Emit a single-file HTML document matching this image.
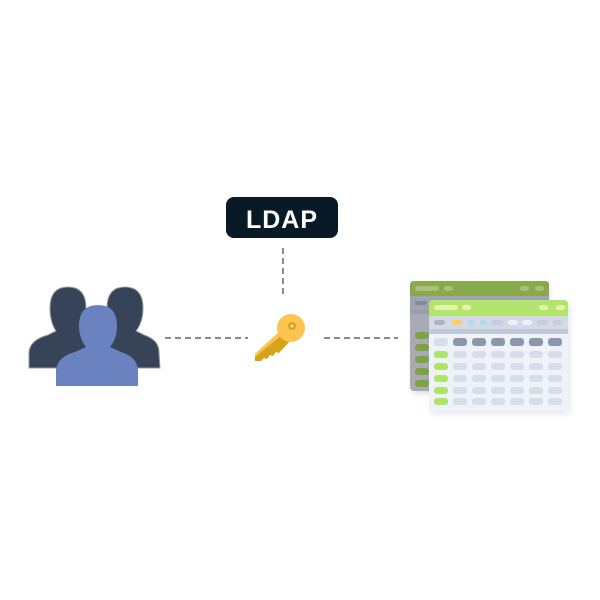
<!DOCTYPE html>
<html><head><style>html,body{margin:0;padding:0;background:#fff;width:600px;height:600px;overflow:hidden}</style></head>
<body>
<svg width="600" height="600" xmlns="http://www.w3.org/2000/svg">
<defs><filter id="sh" x="-20%" y="-20%" width="140%" height="140%"><feGaussianBlur stdDeviation="3"/></filter></defs>
<g stroke="#8a8a8a" stroke-width="2" stroke-dasharray="6,4" fill="none">
<line x1="165" y1="338" x2="248" y2="338"/>
<line x1="324" y1="338" x2="398" y2="338"/>
<line x1="283" y1="248" x2="283" y2="298"/>
</g>
<rect x="226" y="197" width="112" height="41" rx="8" fill="#071a26"/>
<text x="282" y="228" text-anchor="middle" font-family="Liberation Sans, sans-serif" font-weight="bold" font-size="25" fill="#fff" letter-spacing="1">LDAP</text>
<g fill="#374359" stroke="#9a9a9a" stroke-width="1">
<path d="M29 368 L29 352 Q30 340 48 335 L56 331 Q50 322 50 308 Q50 287 68 287 Q86 287 86 308 Q86 322 80 331 L88 335 Q100 340 100 352 L100 368 Z"/>
<path d="M88 368 L88 352 Q89 340 106 335 L114 331 Q107 322 107 308 Q107 287 125 287 Q143 287 143 308 Q143 322 136 331 L144 335 Q159 340 159 352 L160 368 Z"/>
</g>
<path fill="#6a82c0" d="M56 386 L56 370 Q57 357 75 352 L86 347 Q79 338 79 326 Q79 305 98 305 Q117 305 117 326 Q117 338 110 347 L121 352 Q137 357 138 370 L138 386 Z"/>
<!-- key -->
<path d="M280 331 L255 354 L255 361 L261 361 L264 358 L267 359 L270 355 L273 356 L276 352 L279 353 L290 341 Z" fill="#d9a21b"/>
<path d="M280 331 L255 354 L255 357 L283 334 Z" fill="#fdc451"/>
<circle cx="291" cy="328" r="14" fill="#fdc451"/>
<circle cx="292" cy="326" r="4" fill="#d9a21b"/>
<circle cx="292" cy="326" r="1.6" fill="#ddd"/>
<rect x="412" y="284" width="138" height="110" rx="4" fill="#000" opacity="0.12" filter="url(#sh)"/>
<rect x="410" y="281" width="139" height="110" rx="4" fill="#a8abb4"/>
<path d="M414 281 H545 Q549 281 549 285 V296 H410 V285 Q410 281 414 281 Z" fill="#88aa4c"/>
<rect x="415" y="286" width="24" height="5" rx="2.5" fill="#a9bf7a"/>
<rect x="444" y="286" width="9" height="5" rx="2.5" fill="#a9bf7a"/>
<rect x="520" y="286" width="9" height="5" rx="2.5" fill="#a9bf7a"/>
<rect x="535" y="286" width="9" height="5" rx="2.5" fill="#a9bf7a"/>
<rect x="410" y="296" width="139" height="14" fill="#9fa4b0"/>
<rect x="415" y="301" width="12" height="4" rx="2" fill="#808a9c"/>
<rect x="410" y="310" width="139" height="4" fill="#999ea9"/>
<g fill="#7ea342"><rect x="415" y="332" width="14" height="7" rx="3"/><rect x="415" y="344" width="14" height="7" rx="3"/><rect x="415" y="356" width="14" height="7" rx="3"/><rect x="415" y="368" width="14" height="7" rx="3"/><rect x="415" y="380" width="14" height="7" rx="3"/></g>
<rect x="431" y="303" width="139" height="111" rx="4" fill="#6a7ab0" opacity="0.18" filter="url(#sh)"/>
<rect x="429" y="300" width="139" height="111" rx="4" fill="#eef2f9"/>
<path d="M433 300 H564 Q568 300 568 304 V316 H429 V304 Q429 300 433 300 Z" fill="#b3e46e"/>
<g fill="#e6f5a4"><rect x="434" y="305" width="24" height="5" rx="2.5"/><rect x="462" y="305" width="9" height="5" rx="2.5"/><rect x="539" y="305" width="9" height="5" rx="2.5"/><rect x="556" y="305" width="9" height="5" rx="2.5"/></g>
<rect x="429" y="316" width="139" height="13" fill="#d3dae6"/>
<rect x="429" y="329" width="139" height="5" fill="#c0c9d8"/>
<rect x="434" y="320" width="11" height="5" rx="2.5" fill="#a9b3c8"/>
<rect x="451" y="320" width="11" height="5" rx="2.5" fill="#fccd6a"/>
<rect x="468" y="320" width="6" height="5" rx="2.5" fill="#9fdff5"/>
<rect x="480" y="320" width="6" height="5" rx="2.5" fill="#9fdff5"/>
<rect x="491" y="320" width="12" height="5" rx="2.5" fill="#c4cddc"/>
<rect x="508" y="320" width="10" height="5" rx="2.5" fill="#eef2f8"/>
<rect x="522" y="320" width="10" height="5" rx="2.5" fill="#eef2f8"/>
<rect x="537" y="320" width="11" height="5" rx="2.5" fill="#c4cddc"/>
<rect x="553" y="320" width="9" height="5" rx="2.5" fill="#c4cddc"/>
<rect x="434" y="338" width="14" height="8" rx="3" fill="#d7deea"/>
<g fill="#8d97ac"><rect x="453" y="338" width="14" height="8" rx="3"/><rect x="472" y="338" width="14" height="8" rx="3"/><rect x="491" y="338" width="14" height="8" rx="3"/><rect x="510" y="338" width="14" height="8" rx="3"/><rect x="529" y="338" width="14" height="8" rx="3"/><rect x="548" y="338" width="14" height="8" rx="3"/></g>
<g fill="#b0e466"><rect x="434" y="351" width="14" height="7" rx="3"/><rect x="434" y="363" width="14" height="7" rx="3"/><rect x="434" y="375" width="14" height="7" rx="3"/><rect x="434" y="387" width="14" height="7" rx="3"/><rect x="434" y="398" width="14" height="7" rx="3"/></g>
<g fill="#d7deea">
<rect x="453" y="351" width="14" height="7" rx="3"/><rect x="472" y="351" width="14" height="7" rx="3"/><rect x="491" y="351" width="14" height="7" rx="3"/><rect x="510" y="351" width="14" height="7" rx="3"/><rect x="529" y="351" width="14" height="7" rx="3"/><rect x="548" y="351" width="14" height="7" rx="3"/>
<rect x="453" y="363" width="14" height="7" rx="3"/><rect x="472" y="363" width="14" height="7" rx="3"/><rect x="491" y="363" width="14" height="7" rx="3"/><rect x="510" y="363" width="14" height="7" rx="3"/><rect x="529" y="363" width="14" height="7" rx="3"/><rect x="548" y="363" width="14" height="7" rx="3"/>
<rect x="453" y="375" width="14" height="7" rx="3"/><rect x="472" y="375" width="14" height="7" rx="3"/><rect x="491" y="375" width="14" height="7" rx="3"/><rect x="510" y="375" width="14" height="7" rx="3"/><rect x="529" y="375" width="14" height="7" rx="3"/><rect x="548" y="375" width="14" height="7" rx="3"/>
<rect x="453" y="387" width="14" height="7" rx="3"/><rect x="472" y="387" width="14" height="7" rx="3"/><rect x="491" y="387" width="14" height="7" rx="3"/><rect x="510" y="387" width="14" height="7" rx="3"/><rect x="529" y="387" width="14" height="7" rx="3"/><rect x="548" y="387" width="14" height="7" rx="3"/>
<rect x="453" y="398" width="14" height="7" rx="3"/><rect x="472" y="398" width="14" height="7" rx="3"/><rect x="491" y="398" width="14" height="7" rx="3"/><rect x="510" y="398" width="14" height="7" rx="3"/><rect x="529" y="398" width="14" height="7" rx="3"/><rect x="548" y="398" width="14" height="7" rx="3"/>
</g>
</svg>
</body></html>
